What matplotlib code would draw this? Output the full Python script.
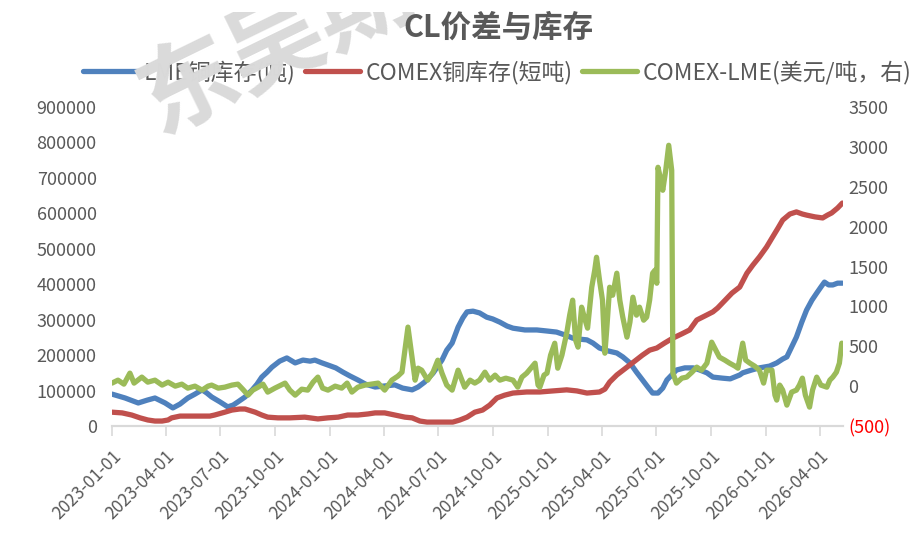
import pandas as pd
import matplotlib.pyplot as plt
from matplotlib.patches import Rectangle

plt.rcParams['font.family'] = ['Noto Sans CJK SC', 'DejaVu Sans']

# LME铜库存(吨)
lme_dates = [
    '2023-01-01', '2023-01-23', '2023-02-14', '2023-03-01', '2023-03-14', '2023-03-31',
    '2023-04-13', '2023-04-25', '2023-05-08', '2023-05-20', '2023-06-01', '2023-06-09',
    '2023-06-17', '2023-07-01', '2023-07-14', '2023-07-23', '2023-07-31', '2023-08-12',
    '2023-08-24', '2023-09-01', '2023-09-09', '2023-09-18', '2023-09-26', '2023-10-09',
    '2023-10-21', '2023-11-04', '2023-11-17', '2023-11-29', '2023-12-07', '2023-12-19',
    '2023-12-29', '2024-01-11', '2024-01-23', '2024-02-04', '2024-02-17', '2024-03-01',
    '2024-03-17', '2024-04-02', '2024-04-19', '2024-05-02', '2024-05-18', '2024-05-28',
    '2024-06-08', '2024-06-22', '2024-07-07', '2024-07-15', '2024-07-24', '2024-08-03',
    '2024-08-11', '2024-08-18', '2024-08-28', '2024-09-08', '2024-09-20', '2024-09-30',
    '2024-10-12', '2024-10-24', '2024-11-03', '2024-11-23', '2024-12-13', '2024-12-30',
    '2025-01-15', '2025-01-29', '2025-02-11', '2025-02-23', '2025-03-07', '2025-03-17',
    '2025-03-28', '2025-04-11', '2025-04-26', '2025-05-06', '2025-05-18', '2025-05-29',
    '2025-06-08', '2025-06-17', '2025-06-25', '2025-07-04', '2025-07-12', '2025-07-19',
    '2025-07-27', '2025-08-04', '2025-08-18', '2025-09-01', '2025-09-12', '2025-09-24',
    '2025-10-04', '2025-10-20', '2025-11-02', '2025-11-18', '2025-11-23', '2025-12-08',
    '2025-12-21', '2026-01-07', '2026-01-19', '2026-01-29', '2026-02-05', '2026-02-13',
    '2026-02-21', '2026-03-02', '2026-03-10', '2026-03-19', '2026-03-27', '2026-04-03',
    '2026-04-09', '2026-04-16', '2026-04-23', '2026-05-01', '2026-05-09',
]
lme_vals = [
    90000, 79000, 65000, 73000, 79000, 65000,
    51000, 62000, 79000, 90000, 102000, 93000,
    82000, 68000, 54000, 59000, 68000, 82000,
    102000, 118000, 138000, 152000, 166000, 183000,
    192000, 178000, 186000, 183000, 186000, 178000,
    172000, 164000, 152000, 141000, 130000, 118000,
    110000, 113000, 116000, 107000, 102000, 110000,
    124000, 149000, 186000, 214000, 234000, 279000,
    305000, 322000, 324000, 319000, 307000, 302000,
    293000, 282000, 276000, 271000, 271000, 268000,
    265000, 257000, 248000, 245000, 243000, 234000,
    220000, 212000, 206000, 195000, 178000, 152000,
    130000, 110000, 93000, 93000, 107000, 130000,
    144000, 158000, 164000, 164000, 158000, 150000,
    138000, 135000, 133000, 144000, 150000, 158000,
    164000, 169000, 178000, 189000, 195000, 223000,
    251000, 293000, 327000, 355000, 375000, 392000,
    406000, 398000, 398000, 403000, 403000,
]

# COMEX铜库存(短吨)
comex_dates = [
    '2023-01-01', '2023-01-18', '2023-02-03', '2023-02-17', '2023-03-02', '2023-03-14',
    '2023-03-26', '2023-04-05', '2023-04-11', '2023-04-25', '2023-05-12', '2023-06-01',
    '2023-06-14', '2023-06-22', '2023-07-09', '2023-07-21', '2023-08-03', '2023-08-12',
    '2023-08-29', '2023-09-09', '2023-09-19', '2023-10-06', '2023-10-26', '2023-11-20',
    '2023-12-12', '2023-12-29', '2024-01-15', '2024-01-31', '2024-02-17', '2024-03-05',
    '2024-03-17', '2024-04-02', '2024-04-19', '2024-05-06', '2024-05-18', '2024-05-31',
    '2024-06-12', '2024-07-03', '2024-07-25', '2024-08-06', '2024-08-18', '2024-08-31',
    '2024-09-13', '2024-09-25', '2024-10-07', '2024-10-20', '2024-11-03', '2024-11-26',
    '2024-12-18', '2025-01-09', '2025-02-01', '2025-02-18', '2025-03-07', '2025-03-28',
    '2025-04-06', '2025-04-14', '2025-04-26', '2025-05-13', '2025-05-26', '2025-06-08',
    '2025-06-20', '2025-07-02', '2025-07-15', '2025-07-29', '2025-08-13', '2025-08-26',
    '2025-09-07', '2025-09-20', '2025-10-04', '2025-10-12', '2025-10-20', '2025-11-05',
    '2025-11-18', '2025-11-30', '2025-12-10', '2025-12-21', '2026-01-02', '2026-01-12',
    '2026-01-21', '2026-01-29', '2026-02-10', '2026-02-21', '2026-03-03', '2026-03-10',
    '2026-03-24', '2026-04-06', '2026-04-14', '2026-04-21', '2026-05-01', '2026-05-09',
]
comex_vals = [
    39000, 37000, 31000, 23000, 17000, 14000,
    14000, 17000, 23000, 28000, 28000, 28000,
    28000, 31000, 39000, 45000, 48000, 48000,
    39000, 31000, 25000, 23000, 23000, 25000,
    20000, 23000, 25000, 31000, 31000, 34000,
    37000, 37000, 31000, 25000, 23000, 14000,
    11000, 11000, 11000, 17000, 25000, 39000,
    45000, 59000, 79000, 87000, 93000, 96000,
    96000, 99000, 102000, 99000, 93000, 96000,
    104000, 124000, 144000, 166000, 183000, 200000,
    214000, 220000, 234000, 248000, 260000, 271000,
    299000, 310000, 322000, 333000, 347000, 375000,
    392000, 431000, 454000, 477000, 505000, 533000,
    558000, 581000, 598000, 604000, 598000, 595000,
    590000, 587000, 595000, 601000, 615000, 629000,
]

# COMEX-LME(美元/吨，右)
spread_dates = [
    '2023-01-01', '2023-01-11', '2023-01-21', '2023-01-31', '2023-02-07', '2023-02-20',
    '2023-03-02', '2023-03-14', '2023-03-26', '2023-04-05', '2023-04-17', '2023-04-28',
    '2023-05-08', '2023-05-20', '2023-06-01', '2023-06-11', '2023-06-17', '2023-06-28',
    '2023-07-09', '2023-07-21', '2023-07-31', '2023-08-08', '2023-08-17', '2023-08-25',
    '2023-09-03', '2023-09-11', '2023-09-19', '2023-10-01', '2023-10-18', '2023-10-26',
    '2023-11-04', '2023-11-15', '2023-11-25', '2023-12-04', '2023-12-12', '2023-12-20',
    '2023-12-29', '2024-01-10', '2024-01-21', '2024-01-30', '2024-02-07', '2024-02-17',
    '2024-02-29', '2024-03-11', '2024-03-22', '2024-04-02', '2024-04-14', '2024-04-24',
    '2024-05-01', '2024-05-07', '2024-05-11', '2024-05-14', '2024-05-17', '2024-05-23',
    '2024-05-28', '2024-06-03', '2024-06-13', '2024-06-22', '2024-06-30', '2024-07-07',
    '2024-07-15', '2024-07-24', '2024-08-03', '2024-08-14', '2024-08-23', '2024-08-31',
    '2024-09-08', '2024-09-17', '2024-09-25', '2024-10-04', '2024-10-12', '2024-10-22',
    '2024-11-03', '2024-11-11', '2024-11-18', '2024-11-26', '2024-12-03', '2024-12-10',
    '2024-12-15', '2024-12-18', '2024-12-25', '2024-12-30', '2025-01-05', '2025-01-12',
    '2025-01-17', '2025-01-24', '2025-02-01', '2025-02-06', '2025-02-11', '2025-02-16',
    '2025-02-20', '2025-02-26', '2025-03-03', '2025-03-08', '2025-03-15', '2025-03-20',
    '2025-03-23', '2025-03-28', '2025-04-02', '2025-04-06', '2025-04-09', '2025-04-14',
    '2025-04-19', '2025-04-26', '2025-05-01', '2025-05-06', '2025-05-13', '2025-05-18',
    '2025-05-23', '2025-05-29', '2025-06-03', '2025-06-10', '2025-06-15', '2025-06-20',
    '2025-06-25', '2025-06-29', '2025-07-02', '2025-07-04', '2025-07-07', '2025-07-12',
    '2025-07-17', '2025-07-22', '2025-07-25', '2025-07-27', '2025-07-29', '2025-08-04',
    '2025-08-13', '2025-08-21', '2025-08-30', '2025-09-07', '2025-09-15', '2025-09-24',
    '2025-10-02', '2025-10-09', '2025-10-15', '2025-10-24', '2025-11-01', '2025-11-10',
    '2025-11-15', '2025-11-23', '2025-11-28', '2025-12-05', '2025-12-13', '2025-12-21',
    '2025-12-28', '2026-01-02', '2026-01-11', '2026-01-16', '2026-01-19', '2026-01-24',
    '2026-01-29', '2026-02-05', '2026-02-13', '2026-02-21', '2026-02-26', '2026-03-03',
    '2026-03-08', '2026-03-15', '2026-03-20', '2026-03-27', '2026-04-03', '2026-04-13',
    '2026-04-18', '2026-04-23', '2026-04-29', '2026-05-04', '2026-05-08', '2026-05-09',
]
spread_vals = [
    38, 75, 25, 163, 38, 113,
    50, 75, 13, 50, 0, 25,
    -25, 0, -50, 0, 13, -25,
    -13, 13, 25, -38, -113, -50,
    -13, 25, -75, -25, 38, -50,
    -113, -38, -50, 50, 113, -25,
    -50, 0, -25, 38, -75, -13,
    13, 25, 38, -50, 75, 125,
    175, 514, 740, 576, 413, 75,
    225, 200, 75, 175, 325, 163,
    13, -50, 200, -13, 75, 38,
    75, 175, 75, 138, 75, 100,
    75, -13, 113, 163, 225, 288,
    13, -13, 138, 163, 388, 538,
    225, 388, 663, 890, 1078, 576,
    489, 990, 852, 727, 1240, 1454,
    1616, 1328, 1078, 413, 700, 1240,
    1140, 1416, 1078, 865, 614, 802,
    1115, 890, 990, 827, 865, 1078,
    1416, 1454, 1290, 2744, 2644, 2456,
    2707, 3020, 2832, 2707, 163, 38,
    100, 113, 175, 238, 200, 288,
    551, 451, 363, 326, 288, 251,
    225, 539, 326, 288, 251, 200,
    38, 200, 200, -113, -175, 13,
    -50, -238, -75, -50, 13, 100,
    -113, -263, -50, 113, 13, -13,
    75, 113, 175, 288, 539, 450,
]

x_ticks = pd.date_range('2023-01-01', '2026-04-01', freq='QS')
left_ticks = [0, 100000, 200000, 300000, 400000, 500000, 600000, 700000, 800000, 900000]
right_ticks = [-500, 0, 500, 1000, 1500, 2000, 2500, 3000, 3500]
right_labels = ['(500)', '0', '500', '1000', '1500', '2000', '2500', '3000', '3500']

c_text = '#595959'
c_axis = '#d9d9d9'

fig = plt.figure(figsize=(9.12, 5.42), dpi=100)
ax = fig.add_axes([0.1228, 0.214, 0.8015, 0.5886])
ax2 = ax.twinx()

l1, = ax.plot(pd.to_datetime(lme_dates), lme_vals, color='#4F81BD', lw=3.8,
              solid_joinstyle='round', solid_capstyle='round', label='LME铜库存(吨)')
l2, = ax.plot(pd.to_datetime(comex_dates), comex_vals, color='#C0504D', lw=3.8,
              solid_joinstyle='round', solid_capstyle='round', label='COMEX铜库存(短吨)')
l3, = ax2.plot(pd.to_datetime(spread_dates), spread_vals, color='#9BBB59', lw=3.8,
               solid_joinstyle='round', solid_capstyle='round', label='COMEX-LME(美元/吨，右)')

ax.set_xlim(pd.Timestamp('2023-01-01'), pd.Timestamp('2026-05-10'))
ax.set_ylim(0, 900000)
ax2.set_ylim(-500, 3500)

ax.set_xticks(x_ticks)
ax.set_xticklabels([d.strftime('%Y-%m-%d') for d in x_ticks], rotation=45,
                   ha='right', rotation_mode='anchor', fontsize=12.5, color=c_text)
ax.set_yticks(left_ticks)
ax.set_yticklabels([str(v) for v in left_ticks], fontsize=13, color=c_text)
ax2.set_yticks(right_ticks)
ax2.set_yticklabels(right_labels, fontsize=13, color=c_text)
ax2.get_yticklabels()[0].set_color('#FF0000')

ax.tick_params(axis='x', direction='out', length=7, width=1.2, color=c_axis, pad=8)
ax.tick_params(axis='y', length=0, pad=11)
ax2.tick_params(axis='y', length=0, pad=4)

for a in (ax, ax2):
    for s in ('top', 'left', 'right'):
        a.spines[s].set_visible(False)
    a.spines['bottom'].set_color(c_axis)
    a.spines['bottom'].set_linewidth(1.5)

fig.legend(handles=[l1, l2, l3], loc='center', bbox_to_anchor=(0.545, 0.867), ncol=3,
           frameon=False, fontsize=16.5, handlelength=2.4, handletextpad=0.25,
           columnspacing=0.4, labelcolor=c_text)

# 水印（压在图例上、标题之下）
wm = fig.text(0.351, 0.956, '东吴期货', ha='center', va='center', rotation=26,
              fontsize=70, fontweight='bold', color='#dadada', zorder=10)
wm.set_clip_path(Rectangle((0, 0), 1, 0.978, transform=fig.transFigure))

fig.text(0.546, 0.948, 'CL价差与库存', ha='center', va='center',
         fontsize=22, fontweight='bold', color=c_text, zorder=11)

fig.savefig('out.png', dpi=100)
